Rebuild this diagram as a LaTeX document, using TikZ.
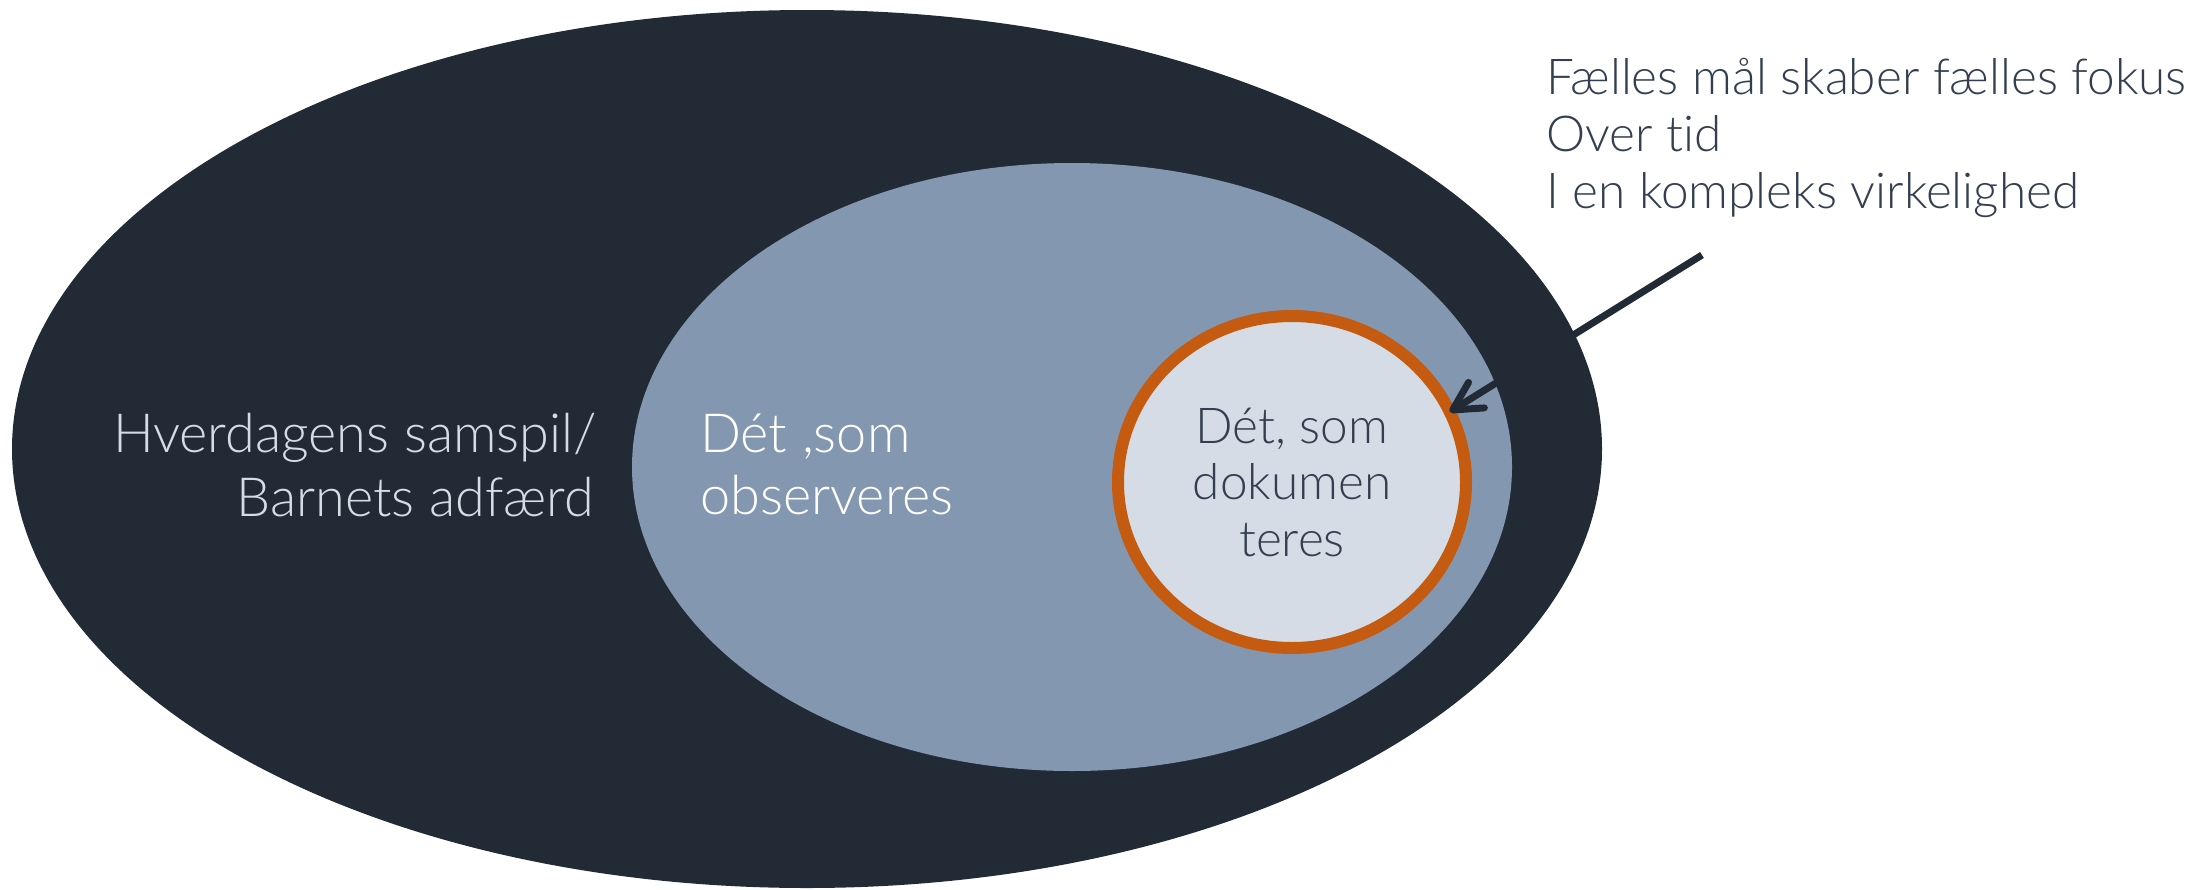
\documentclass[tikz,border=0pt]{standalone}
\usepackage{fontspec}
\setmainfont{Lato}[UprightFont=* Light, Ligatures=NoCommon]
\usetikzlibrary{shapes.geometric,arrows.meta}
\definecolor{outerc}{HTML}{222A35}
\definecolor{midc}{HTML}{8497B0}
\definecolor{innerc}{HTML}{D6DCE5}
\definecolor{orangec}{HTML}{C55A11}
\definecolor{textdark}{HTML}{333F50}
\tikzset{
  blob/.style={ellipse, inner sep=0pt, outer sep=0pt},
  bigtxt/.style={font=\fontsize{54}{64}\selectfont, inner sep=0pt, anchor=base},
  innertxt/.style={font=\fontsize{49.5}{58}\selectfont, inner sep=0pt, anchor=base, text=textdark},
  smalltxt/.style={font=\fontsize{49.5}{58}\selectfont, inner sep=0pt, anchor=base west, text=textdark},
  pointer/.style={draw=outerc, line width=7pt, -{Straight Barb[length=28pt,width=30pt,round]}}
}
\begin{document}
\begin{tikzpicture}[x=1pt,y=-1pt]
\useasboundingbox (0,0) rectangle (2202,889);
\node[blob, fill=outerc, minimum width=1590pt, minimum height=878pt] (outer) at (807,449) {};
\node[blob, fill=midc, minimum width=880pt, minimum height=608pt] (mid) at (1072,467) {};
\node[blob, fill=innerc, draw=orangec, line width=12pt, minimum width=348pt, minimum height=332pt] (inner) at (1292,482) {};
% left text
\node[bigtxt, anchor=base east, text=innerc] (l1) at (597,452) {Hverdagens samspil/};
\node[bigtxt, anchor=base east, text=innerc] (l2) at (594,516) {Barnets adfærd};
% middle text
\node[bigtxt, anchor=base west, text=white] (m1) at (700,452) {Dét ,som};
\node[bigtxt, anchor=base west, text=white] (m2) at (700,514) {observeres};
% inner text
\node[innertxt] (i1) at (1292,443) {Dét, som};
\node[innertxt] (i2) at (1292,499) {dokumen};
\node[innertxt] (i3) at (1292,556) {teres};
% right text
\node[smalltxt] (r1) at (1546,94) {Fælles mål skaber fælles fokus};
\node[smalltxt] (r2) at (1546,151) {Over tid};
\node[smalltxt] (r3) at (1546,208) {I en kompleks virkelighed};
% pointer
\coordinate (pstart) at (1702,255);
\draw[pointer] (pstart) -- (inner.24);
\end{tikzpicture}
\end{document}
